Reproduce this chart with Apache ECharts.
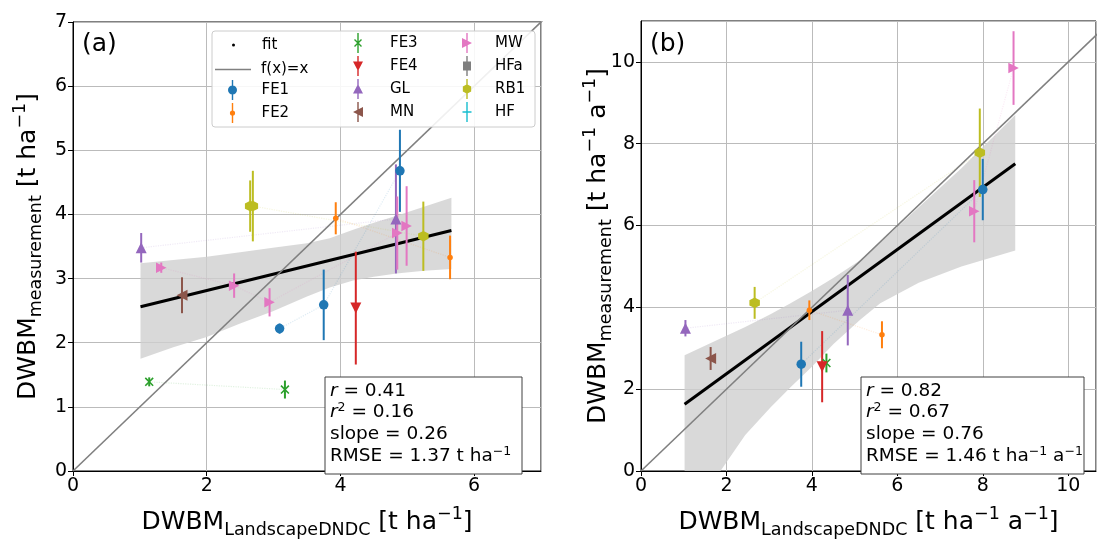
<!DOCTYPE html>
<html><head><meta charset="utf-8">
<script src="https://cdn.jsdelivr.net/npm/echarts@6/dist/echarts.min.js"></script>
<style>html,body{margin:0;padding:0;background:#fff}#c{width:1097px;height:544px}</style>
</head><body><div id="c"></div>
<script>
// ---------------- DATA ----------------
const sites = ['FE1','FE2','FE3','FE4','GL','MN','MW','HFa','RB1','HF'];
// Panel (a): [x, y, error]
const a_FE1 = [[3.09,2.22,0.08],[3.75,2.59,0.55],[4.89,4.68,0.64]];
const a_FE2 = [[3.93,3.94,0.25],[5.64,3.33,0.34]];
const a_FE3 = [[1.14,1.39,0.07],[3.17,1.27,0.14]];
const a_FE4 = [[4.23,2.54,0.88]];
const a_GL  = [[1.02,3.48,0.23],[4.83,3.93,0.85]];
const a_MN  = [[1.63,2.74,0.28]];
const a_MW  = [[1.32,3.17,0.08],[2.41,2.89,0.19],[2.94,2.63,0.22],[4.85,3.71,0.57],[4.99,3.82,0.62]];
const a_HFa = [];
const a_RB1 = [[2.65,4.13,0.40],[2.69,4.13,0.55],[5.24,3.66,0.54]];
const a_HF  = [];
// Panel (b): [x, y, error]
const b_FE1 = [[3.75,2.61,0.55],[8.00,6.88,0.75]];
const b_FE2 = [[3.94,3.93,0.24],[5.64,3.33,0.33]];
const b_FE3 = [[4.34,2.64,0.23]];
const b_FE4 = [[4.24,2.55,0.87]];
const b_GL  = [[1.04,3.49,0.20],[4.84,3.93,0.86]];
const b_MN  = [[1.63,2.75,0.28]];
const b_MW  = [[7.80,6.35,0.76],[8.72,9.85,0.90]];
const b_HFa = [];
const b_RB1 = [[2.66,4.11,0.39],[7.93,7.78,1.08]];
const b_HF  = [];
// regression fits (endpoints) and confidence bands
const fitA = [[1.01,2.56],[5.66,3.75]];
const fitB = [[1.02,1.63],[8.76,7.51]];
const bandA_x  = [1.01,1.5,2.0,2.5,2.99,3.5,3.84,4.19,4.5,4.84,5.25,5.66];
const bandA_lo = [1.75,1.93,2.09,2.30,2.49,2.72,2.86,2.97,3.03,3.08,3.12,3.15];
const bandA_hi = [3.24,3.29,3.34,3.41,3.48,3.55,3.63,3.76,3.87,3.98,4.12,4.26];
const bandB_x  = [1.02,1.86,2.44,3.03,3.5,4.0,4.5,5.13,5.6,6.5,7.5,8.76];
const bandB_lo = [-1.5,0.0,0.88,1.55,2.05,2.55,3.10,3.70,4.10,4.60,5.00,5.39];
const bandB_hi = [2.83,3.24,3.52,3.83,4.10,4.40,4.72,5.15,5.58,6.45,7.40,8.70];
const identity = [0, 12];
// tick settings
const xTicksA = {min:0, max:7, interval:2};
const yTicksA = {min:0, max:7, interval:1};
const xTicksB = {min:0, max:10.65, interval:2};
const yTicksB = {min:0, max:11, interval:2};
// stats text
const statsA = ['0.41','0.16','0.26','1.37'];
const statsB = ['0.82','0.67','0.76','1.46'];

// ---------------- STYLE ----------------
const FONT = 'DejaVu Sans';
const colors = {FE1:'#1f77b4',FE2:'#ff7f0e',FE3:'#2ca02c',FE4:'#d62728',GL:'#9467bd',
  MN:'#8c564b',MW:'#e377c2',HFa:'#7f7f7f',RB1:'#bcbd22',HF:'#17becf'};
const hexPath = 'path://M5,0.2 L9.16,2.6 L9.16,7.4 L5,9.8 L0.84,7.4 L0.84,2.6 Z';
const xPath = 'path://M1.99,1.0 L8.99,8.0 L8.0,8.99 L1.0,1.99 Z M8.99,1.99 L1.99,8.99 L1.0,8.0 L8.0,1.0 Z';
const plusPath = 'path://M4.3,0 L5.7,0 L5.7,4.3 L10,4.3 L10,5.7 L5.7,5.7 L5.7,10 L4.3,10 L4.3,5.7 L0,5.7 L0,4.3 L4.3,4.3 Z';
const markers = {
  FE1:{symbol:'circle', size:9.5},
  FE2:{symbol:'circle', size:5.5},
  FE3:{symbol:xPath, size:9},
  FE4:{symbol:'triangle', size:11, rotate:180},
  GL:{symbol:'triangle', size:11},
  MN:{symbol:'triangle', size:11, rotate:90},
  MW:{symbol:'triangle', size:10.5, rotate:-90},
  HFa:{symbol:'rect', size:9},
  RB1:{symbol:hexPath, size:10.5},
  HF:{symbol:plusPath, size:9}
};
const bar = 'M4.3,0 L5.7,0 L5.7,20 L4.3,20 Z ';
const legendIcons = {
  FE1:'path://'+bar+'M0.5,10 A4.5,4.5 0 1,1 9.5,10 A4.5,4.5 0 1,1 0.5,10 Z',
  FE2:'path://'+bar+'M2.4,10 A2.6,2.6 0 1,1 7.6,10 A2.6,2.6 0 1,1 2.4,10 Z',
  FE3:'path://'+bar+'M1.99,6.0 L8.99,13.0 L8.0,13.99 L1.0,6.99 Z M8.99,6.99 L1.99,13.99 L1.0,13.0 L8.0,6.0 Z',
  FE4:'path://'+bar+'M0,5.5 L10,5.5 L5,15 Z',
  GL:'path://'+bar+'M5,5 L10,14.5 L0,14.5 Z',
  MN:'path://'+bar+'M10,5 L10,15 L0,10 Z',
  MW:'path://'+bar+'M0,5 L10,10 L0,15 Z',
  HFa:'path://'+bar+'M1,5.5 L9,5.5 L9,14.5 L1,14.5 Z',
  RB1:'path://'+bar+'M5,5.2 L9.16,7.6 L9.16,12.4 L5,14.8 L0.84,12.4 L0.84,7.6 Z',
  HF:'path://'+bar+'M0.5,9.3 L9.5,9.3 L9.5,10.7 L0.5,10.7 Z'
};
const panelData = [
  {FE1:a_FE1,FE2:a_FE2,FE3:a_FE3,FE4:a_FE4,GL:a_GL,MN:a_MN,MW:a_MW,HFa:a_HFa,RB1:a_RB1,HF:a_HF},
  {FE1:b_FE1,FE2:b_FE2,FE3:b_FE3,FE4:b_FE4,GL:b_GL,MN:b_MN,MW:b_MW,HFa:b_HFa,RB1:b_RB1,HF:b_HF}
];

const titleRich = {
  b:{fontSize:25, fontFamily:FONT, color:'#000', lineHeight:34},
  s:{fontSize:17.5, fontFamily:FONT, color:'#000', lineHeight:17, verticalAlign:'bottom'},
  p:{fontSize:17.5, fontFamily:FONT, color:'#000', lineHeight:17, verticalAlign:'top'}
};

function axis(gi, ticks, name, gap, showMax) {
  return Object.assign({
    type:'value', gridIndex:gi,
    name:name, nameLocation:'middle', nameGap:gap, nameMoveOverlap:false,
    nameTextStyle:{rich:titleRich, color:'#000'},
    axisLine:{show:true, onZero:false, lineStyle:{color:'#000', width:1}},
    axisTick:{show:true, length:5, lineStyle:{color:'#000', width:1}},
    axisLabel:{fontSize:19, color:'#000', fontFamily:FONT, margin:6, showMaxLabel:showMax},
    splitLine:{show:true, lineStyle:{color:'#bbbbbb', width:1}}
  }, ticks);
}

function errRender(params, api) {
  const x = api.value(0), y = api.value(1), e = api.value(2);
  const p1 = api.coord([x, y - e]), p2 = api.coord([x, y + e]);
  return {type:'line', shape:{x1:p1[0], y1:p1[1], x2:p2[0], y2:p2[1]},
    style:{stroke: api.visual('color'), lineWidth:2}};
}

function bandRender(xs, lo, hi) {
  return function(params, api) {
    if (params.dataIndex !== 0) return null;
    const pts = [];
    for (let i = 0; i < xs.length; i++) pts.push(api.coord([xs[i], hi[i]]));
    for (let i = xs.length - 1; i >= 0; i--) pts.push(api.coord([xs[i], lo[i]]));
    const cs = params.coordSys;
    return {type:'polygon', shape:{points:pts},
      style:{fill:'#cfcfcf', opacity:0.8},
      clipPath:{type:'rect', shape:{x:cs.x, y:cs.y, width:cs.width, height:cs.height}}};
  };
}

const series = [];
const bands = [[bandA_x,bandA_lo,bandA_hi],[bandB_x,bandB_lo,bandB_hi]];
const fits = [fitA, fitB];
[0,1].forEach(p => {
  const bd = bands[p];
  series.push({name:'fit', type:'custom', xAxisIndex:p, yAxisIndex:p, z:1, silent:true,
    renderItem:bandRender(bd[0],bd[1],bd[2]),
    data:bd[0].map((x,i)=>[x,bd[1][i],bd[2][i]]), encode:{x:0,y:[1,2]},
    itemStyle:{color:'#000'}});
  // faint dotted links between measurements of the same site
  sites.forEach(s => {
    const arr = panelData[p][s].slice().sort((u,v)=>u[0]-v[0]);
    if (arr.length > 1) series.push({type:'line', xAxisIndex:p, yAxisIndex:p, z:2, silent:true,
      data:arr.map(d=>[d[0],d[1]]), symbol:'none',
      lineStyle:{color:colors[s], width:1.2, type:'dotted', opacity:0.14}});
  });
  series.push({name:'fit', type:'line', xAxisIndex:p, yAxisIndex:p, z:3, silent:true,
    data:fits[p], symbol:'none', lineStyle:{color:'#000', width:3}, itemStyle:{color:'#000'}});
  series.push({name:'f(x)=x', type:'line', xAxisIndex:p, yAxisIndex:p, z:4, silent:true,
    data:identity.map(v=>[v,v]), symbol:'none', clip:true,
    lineStyle:{color:'#808080', width:1.6}, itemStyle:{color:'#808080'}});
  sites.forEach(s => {
    const arr = panelData[p][s];
    const m = markers[s];
    series.push({name:s, type:'scatter', xAxisIndex:p, yAxisIndex:p, z:6, silent:true,
      data:arr.map(d=>[d[0],d[1]]), symbol:m.symbol, symbolSize:m.size, symbolRotate:m.rotate||0,
      itemStyle:{color:colors[s], opacity:1}});
    series.push({name:s, type:'custom', xAxisIndex:p, yAxisIndex:p, z:5, silent:true,
      renderItem:errRender, data:arr, encode:{x:0,y:1}, itemStyle:{color:colors[s]}});
  });
});

function legTxt(pad) {
  return {fontSize:15, color:'#000', fontFamily:FONT, padding:[0,0,0,pad]};
}
function leg(names, left, top, iw, ih, pad) {
  return {orient:'vertical', left:left, top:top, padding:0, itemWidth:iw, itemHeight:ih,
    itemGap:3, textStyle:legTxt(pad), z:20, selectedMode:false,
    data:names.map(n => ({name:n, icon:legendIcons[n]}))};
}
const legends = [
  {orient:'vertical', left:232, top:37.5, padding:0, itemWidth:3, itemHeight:3,
   textStyle:legTxt(22), z:20, selectedMode:false,
   data:[{name:'fit', icon:'circle', itemStyle:{color:'#000'}}]},
  {orient:'vertical', left:215, top:62, padding:0, itemWidth:36, itemHeight:1.6,
   textStyle:legTxt(5), z:20, selectedMode:false,
   data:[{name:'f(x)=x', icon:'path://M0,0 L36,0 L36,1.6 L0,1.6 Z', itemStyle:{color:'#808080'}}]},
  leg(['FE1','FE2'], 228, 80, 10, 20, 19),
  leg(['FE3','FE4','GL','MN'], 353, 33, 10, 20, 22),
  leg(['MW','HFa','RB1','HF'], 462, 33, 10, 20, 18)
];

const statRich = {
  i:{fontSize:18.5, fontFamily:FONT, fontStyle:'italic', color:'#000', lineHeight:21.7},
  p:{fontSize:12.5, fontFamily:FONT, color:'#000', lineHeight:11, verticalAlign:'top'}
};
function statText(v, unitB) {
  return '{i|r} = ' + v[0] + '\n{i|r}{p|2} = ' + v[1] + '\nslope = ' + v[2] +
    '\nRMSE = ' + v[3] + ' t ha{p|−1}' + (unitB ? ' a{p|−1}' : '');
}

const option = {
  animation:false,
  backgroundColor:'#fff',
  grid:[
    {left:73, top:22, width:468, height:457, show:true, borderColor:'#000', borderWidth:1},
    {left:641, top:21, width:455, height:459, show:true, borderColor:'#000', borderWidth:1}
  ],
  xAxis:[
    axis(0, xTicksA, '{b|DWBM}{s|LandscapeDNDC}{b| [t ha}{p|−1}{b|]}', 34, false),
    axis(1, xTicksB, '{b|DWBM}{s|LandscapeDNDC}{b| [t ha}{p|−1}{b| a}{p|−1}{b|]}', 34, false)
  ],
  yAxis:[
    axis(0, yTicksA, '{b|DWBM}{s|measurement}{b| [t ha}{p|−1}{b|]}', 28, true),
    axis(1, yTicksB, '{b|DWBM}{s|measurement}{b| [t ha}{p|−1}{b| a}{p|−1}{b|]}', 26, false)
  ],
  legend:legends,
  graphic:[
    {type:'rect', z:15, shape:{x:212, y:31, width:323, height:96, r:3},
     style:{fill:'rgba(255,255,255,0.88)', stroke:'#cccccc', lineWidth:1}},
    {type:'rect', z:15, shape:{x:325, y:377, width:197, height:97},
     style:{fill:'#fff', stroke:'#404040', lineWidth:1}},
    {type:'text', z:16, left:330, top:380, style:{text:statText(statsA,false), rich:statRich,
      fontSize:18.5, fontFamily:FONT, fill:'#000', lineHeight:21.7}},
    {type:'rect', z:15, shape:{x:861, y:377, width:223, height:97},
     style:{fill:'#fff', stroke:'#404040', lineWidth:1}},
    {type:'text', z:16, left:866, top:380, style:{text:statText(statsB,true), rich:statRich,
      fontSize:18.5, fontFamily:FONT, fill:'#000', lineHeight:21.7}},
    {type:'text', z:16, left:82, top:32, style:{text:'(a)', fontSize:25, fontFamily:FONT, fill:'#000'}},
    {type:'text', z:16, left:650, top:32, style:{text:'(b)', fontSize:25, fontFamily:FONT, fill:'#000'}}
  ],
  series:series
};
const chart = echarts.init(document.getElementById('c'));
chart.setOption(option);
</script></body></html>
